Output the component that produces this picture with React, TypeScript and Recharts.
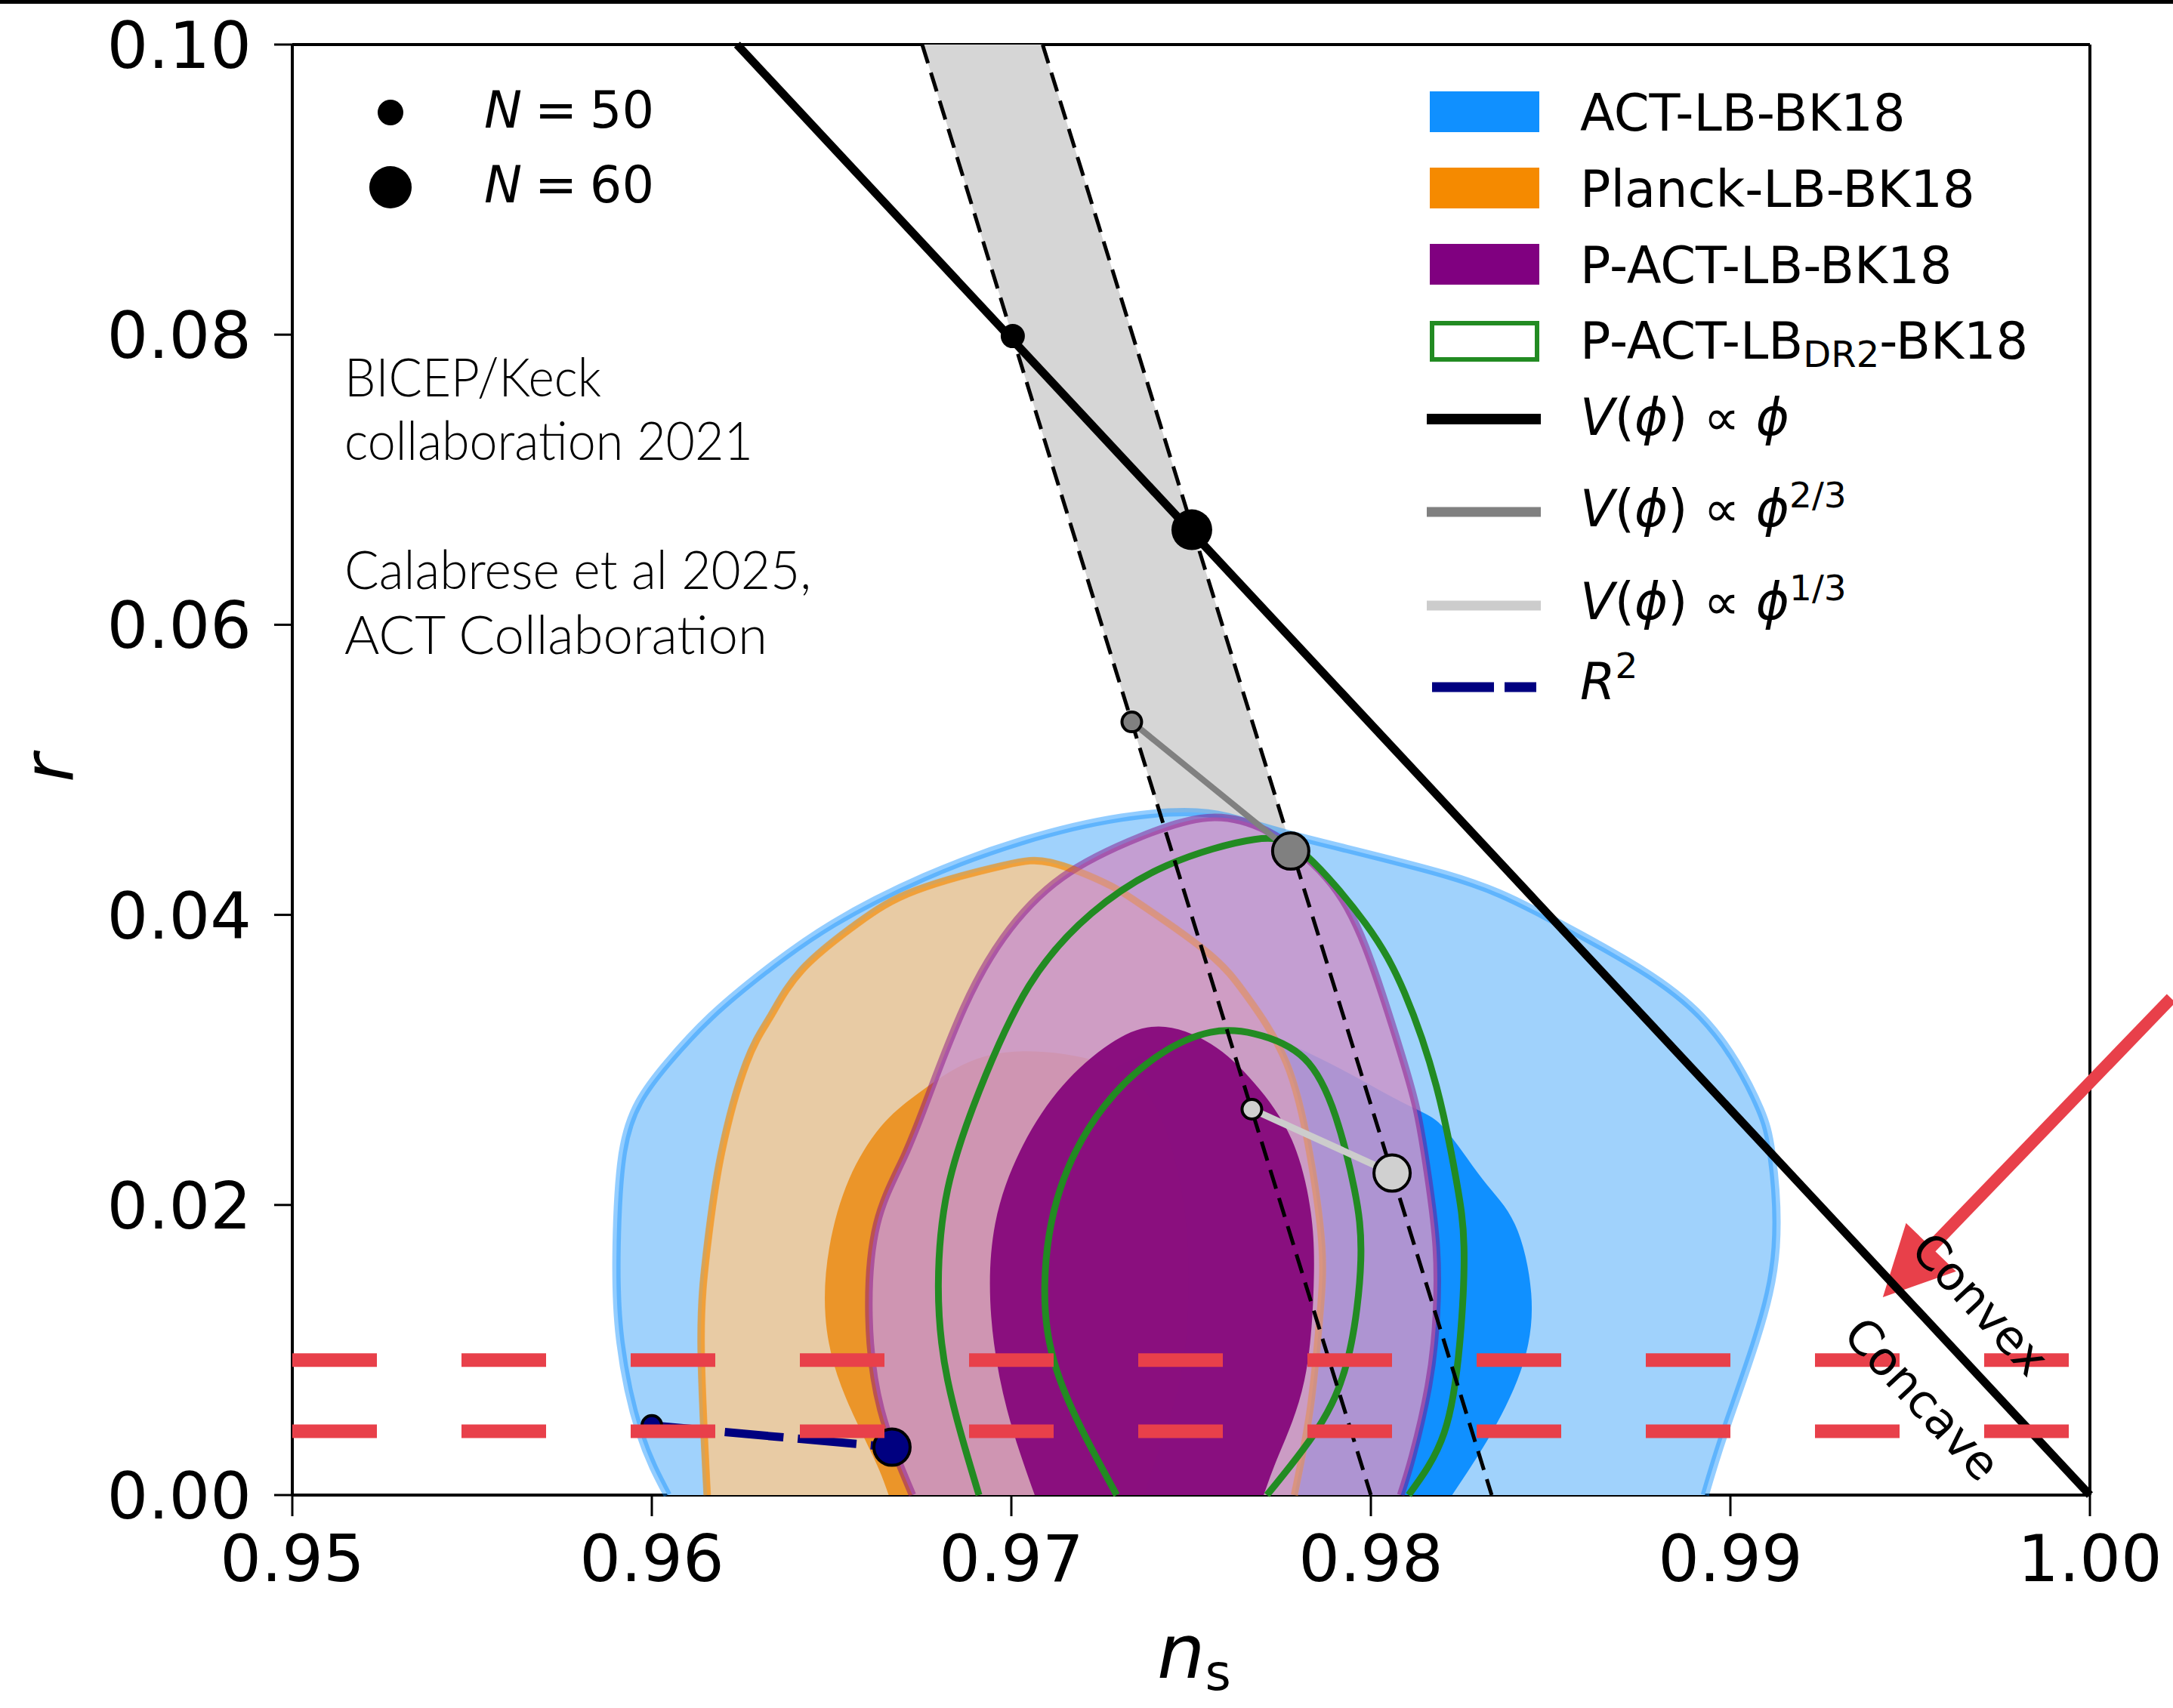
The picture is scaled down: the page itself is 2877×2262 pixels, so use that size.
import React from "react";
import { ScatterChart, Scatter, XAxis, YAxis, ReferenceLine } from "recharts";

type P = [number, number];

const W = 2877;
const H = 2262;

const nsTicks = [0.95, 0.96, 0.97, 0.98, 0.99, 1.0];
const rTicks = [0, 0.02, 0.04, 0.06, 0.08, 0.1];

// contours, [n_s, r], from r = 0 up and round to r = 0
const act95: P[] = [
  [0.96044, 0], [0.95967, 0.0043], [0.95912, 0.0107], [0.95902, 0.0171], [0.95918, 0.0234],
  [0.95965, 0.0271], [0.96044, 0.0298], [0.96165, 0.033], [0.96319, 0.0362], [0.96505, 0.0394],
  [0.96758, 0.0426], [0.97031, 0.0451], [0.97306, 0.0467], [0.97546, 0.047], [0.97765, 0.0456],
  [0.98204, 0.0428], [0.98479, 0.04], [0.98753, 0.0362], [0.98918, 0.033], [0.99016, 0.0298],
  [0.99082, 0.0266], [0.99115, 0.0234], [0.99126, 0.0171], [0.99071, 0.0107], [0.98983, 0.0043],
  [0.98929, 0],
];
const act68: P[] = [
  [0.97, 0], [0.9687, 0.006], [0.9684, 0.012], [0.9689, 0.018], [0.9702, 0.024], [0.9722, 0.0285],
  [0.975, 0.0315], [0.9776, 0.0312], [0.9807, 0.0273], [0.982, 0.0254], [0.9831, 0.0218],
  [0.984, 0.0187], [0.98446, 0.0139], [0.98424, 0.0091], [0.98336, 0.0043], [0.98226, 0],
];
const planck95: P[] = [
  [0.96154, 0], [0.96137, 0.0107], [0.96154, 0.0171], [0.96192, 0.0234], [0.96263, 0.0298],
  [0.9633, 0.033], [0.96417, 0.0362], [0.96571, 0.0394], [0.96736, 0.0417], [0.96977, 0.0434],
  [0.9711, 0.0436], [0.97252, 0.0423], [0.97361, 0.0407], [0.97546, 0.0374], [0.97655, 0.0344],
  [0.97765, 0.0298], [0.97831, 0.0234], [0.97864, 0.0171], [0.97858, 0.0123], [0.97831, 0.0059],
  [0.97787, 0],
];
const planck68: P[] = [
  [0.96659, 0], [0.96615, 0.0027], [0.96527, 0.0075], [0.96483, 0.0123], [0.96494, 0.0171],
  [0.96549, 0.0218], [0.96637, 0.0254], [0.96736, 0.0276], [0.96868, 0.0297], [0.97032, 0.0306],
  [0.97252, 0.0298], [0.97405, 0.0266], [0.9748, 0.02], [0.97493, 0.0139], [0.9747, 0.008],
  [0.97405, 0.0027], [0.9737, 0],
];
const pact95: P[] = [
  [0.96725, 0], [0.96637, 0.0059], [0.96604, 0.0123], [0.96626, 0.0187], [0.96703, 0.0234],
  [0.9678, 0.0282], [0.96868, 0.0336], [0.96977, 0.0384], [0.97142, 0.0426], [0.97361, 0.0454],
  [0.97546, 0.0467], [0.9771, 0.0458], [0.97875, 0.0426], [0.97985, 0.0378], [0.98072, 0.0314],
  [0.98127, 0.0266], [0.9816, 0.0218], [0.98182, 0.0171], [0.98182, 0.0123], [0.9816, 0.0075],
  [0.98116, 0.0027], [0.98083, 0],
];
const pact68: P[] = [
  [0.97065, 0], [0.96988, 0.0059], [0.96944, 0.0123], [0.96955, 0.0187], [0.97032, 0.0241],
  [0.97142, 0.0282], [0.97274, 0.0311], [0.9741, 0.0323], [0.97555, 0.0311], [0.97676, 0.0284],
  [0.9778, 0.0245], [0.97833, 0.0195], [0.97841, 0.0145], [0.97815, 0.0079], [0.97746, 0.0029],
  [0.97702, 0],
];
const dr2_95: P[] = [
  [0.9691, 0], [0.96823, 0.0079], [0.96797, 0.0145], [0.96823, 0.0211], [0.9691, 0.0278],
  [0.97049, 0.0351], [0.97223, 0.0401], [0.97432, 0.0434], [0.97676, 0.0452], [0.9782, 0.0441],
  [0.97985, 0.0394], [0.98094, 0.0346], [0.98182, 0.0282], [0.98237, 0.0218], [0.98259, 0.0171],
  [0.98248, 0.0107], [0.98204, 0.0043], [0.98105, 0],
];
const dr2_68: P[] = [
  [0.97293, 0], [0.97136, 0.0079], [0.97093, 0.0145], [0.97136, 0.0211], [0.97258, 0.0268],
  [0.97415, 0.0304], [0.97554, 0.0319], [0.97676, 0.0318], [0.97815, 0.0301], [0.97902, 0.0261],
  [0.97954, 0.0211], [0.97972, 0.0162], [0.97937, 0.0095], [0.9785, 0.0045], [0.97711, 0],
];

// BICEP/Keck band edges
const bandLeft: P[] = [[0.96752, 0.1], [0.98, 0]];
const bandRight: P[] = [[0.97087, 0.1], [0.98336, 0]];

// models at N = 50, 60
const nEfolds = [50, 60];
const linearTrack: P[] = [[0.96237, 0.1], [1.0, 0]];
const linearModel: P[] = [[0.97004, 0.0799], [0.97502, 0.06655]];
const twoThirdsModel: P[] = [[0.97335, 0.0533], [0.97777, 0.0444]];
const oneThirdModel: P[] = [[0.97669, 0.0266], [0.98059, 0.0222]];
const r2Model: P[] = [[0.96, 0.0048], [0.96668, 0.0033]];

const redLevels = [0.0093, 0.0044];
const arrowFrom: P = [1.00226, 0.03425];
const arrowTo: P = [0.99424, 0.01364];

const pts = (a: P[]) => a.map(([x, y]) => ({ x, y }));
const withN = (a: P[]) => a.map(([x, y], i) => ({ x, y, N: nEfolds[i] }));

const RED = "#e8404a";
const DV = "DejaVu Sans";

const nothing = () => <g />;

const region = (key: string, data: P[], line: any, curve: any = "natural") => (
  <Scatter
    key={key}
    data={pts(data)}
    line={{ strokeLinejoin: "round", ...line }}
    lineType="joint"
    lineJointType={curve}
    shape={nothing}
    isAnimationActive={false}
  />
);

const dot = (fill: string, edge: boolean) => (p: any) => {
  const big = p.payload && p.payload.N === 60;
  return (
    <circle
      cx={p.cx}
      cy={p.cy}
      r={edge ? (big ? 24 : 13) : big ? 27 : 16}
      fill={fill}
      stroke={edge ? "#000" : "none"}
      strokeWidth={4}
    />
  );
};

const XTick = (p: any) => (
  <text x={p.x} y={p.y} dy={86} textAnchor="middle" fontFamily={DV} fontSize={86} fill="#000">
    {Number(p.payload.value).toFixed(2)}
  </text>
);
const YTick = (p: any) => (
  <text x={p.x} y={p.y} dy={31} textAnchor="end" fontFamily={DV} fontSize={86} fill="#000">
    {Number(p.payload.value).toFixed(2)}
  </text>
);

const arrowShape = (p: any) => {
  const { x1, y1, x2, y2 } = p;
  const dx = x2 - x1;
  const dy = y2 - y1;
  const len = Math.hypot(dx, dy) || 1;
  const ux = dx / len;
  const uy = dy / len;
  const head = 92;
  const half = 46;
  const bx = x2 - ux * head;
  const by = y2 - uy * head;
  return (
    <g>
      <line x1={x1} y1={y1} x2={bx + ux * 4} y2={by + uy * 4} stroke={RED} strokeWidth={16} />
      <polygon
        points={`${x2},${y2} ${bx - uy * half},${by + ux * half} ${bx + uy * half},${by - ux * half}`}
        fill={RED}
      />
    </g>
  );
};

const legendRows = [
  { label: "ACT-LB-BK18", fill: "#1090ff", y: 148 },
  { label: "Planck-LB-BK18", fill: "#f58a00", y: 249 },
  { label: "P-ACT-LB-BK18", fill: "#800080", y: 350 },
];

const italic = { fontStyle: "italic" as const };

export default function App() {
  return (
    <div style={{ position: "relative", width: W, height: H, background: "#fff", overflow: "hidden" }}>
      <style>{"body{margin:0}"}</style>
      <ScatterChart width={W} height={H} margin={{ top: 59, right: 110, bottom: 0, left: 0 }}>
        <XAxis
          type="number"
          dataKey="x"
          domain={[0.95, 1]}
          ticks={nsTicks}
          interval={0}
          height={282}
          tickSize={28}
          tickMargin={0}
          tick={XTick}
          axisLine={{ stroke: "#000", strokeWidth: 4 }}
          tickLine={{ stroke: "#000", strokeWidth: 3 }}
        />
        <YAxis
          type="number"
          dataKey="y"
          domain={[0, 0.1]}
          ticks={rTicks}
          interval={0}
          width={387}
          tickSize={24}
          tickMargin={30}
          tick={YTick}
          axisLine={{ stroke: "#000", strokeWidth: 4 }}
          tickLine={{ stroke: "#000", strokeWidth: 3 }}
        />

        {region("band", [...bandLeft, ...[...bandRight].reverse()], { fill: "#d6d6d6", stroke: "none" }, "linear")}

        {region("act95", act95, { fill: "#a0d2fc", stroke: "#1090ff", strokeOpacity: 0.45, strokeWidth: 11 })}
        {region("act68", act68, { fill: "#1090ff", stroke: "none" })}
        {region("planck95", planck95, {
          fill: "rgb(245,202,148)",
          fillOpacity: 0.85,
          stroke: "#f58a00",
          strokeOpacity: 0.5,
          strokeWidth: 10,
        })}
        {region("planck68", planck68, { fill: "rgb(235,140,20)", fillOpacity: 0.85, stroke: "none" })}
        {region("pact95", pact95, {
          fill: "rgb(202,149,202)",
          fillOpacity: 0.85,
          stroke: "#800080",
          strokeOpacity: 0.45,
          strokeWidth: 10,
        })}
        {region("pact68", pact68, { fill: "rgb(130,0,120)", fillOpacity: 0.9, stroke: "none" })}
        {region("planck95edge", planck95, { fill: "none", stroke: "#f58a00", strokeOpacity: 0.3, strokeWidth: 9 })}
        {region("dr2_95", dr2_95, { fill: "none", stroke: "#228b22", strokeWidth: 9 })}
        {region("dr2_68", dr2_68, { fill: "none", stroke: "#228b22", strokeWidth: 9 })}

        {region("bandL", bandLeft, { fill: "none", stroke: "#000", strokeWidth: 5, strokeDasharray: "26 13" }, "linear")}
        {region("bandR", bandRight, { fill: "none", stroke: "#000", strokeWidth: 5, strokeDasharray: "26 13" }, "linear")}
        {region("linear", linearTrack, { fill: "none", stroke: "#000", strokeWidth: 11 }, "linear")}

        <Scatter
          data={withN(twoThirdsModel)}
          line={{ stroke: "#808080", strokeWidth: 8 }}
          lineType="joint"
          lineJointType="linear"
          shape={dot("#808080", true)}
          isAnimationActive={false}
        />
        <Scatter
          data={withN(oneThirdModel)}
          line={{ stroke: "#cccccc", strokeWidth: 9 }}
          lineType="joint"
          lineJointType="linear"
          shape={dot("#d0d0d0", true)}
          isAnimationActive={false}
        />
        <Scatter
          data={withN(r2Model)}
          line={{ stroke: "#000080", strokeWidth: 11, strokeDasharray: "78 19" }}
          lineType="joint"
          lineJointType="linear"
          shape={dot("#000080", true)}
          isAnimationActive={false}
        />
        <Scatter data={withN(linearModel)} shape={dot("#000", false)} isAnimationActive={false} />

        {redLevels.map((lv) =>
          region(
            "red" + lv,
            [[0.95, lv], [1.0, lv]],
            { fill: "none", stroke: RED, strokeWidth: 18, strokeDasharray: "112 112" },
            "linear"
          )
        )}

        <ReferenceLine y={0.1} stroke="#000" strokeWidth={4} />
        <ReferenceLine x={1.0} stroke="#000" strokeWidth={4} />
        <ReferenceLine
          segment={[
            { x: arrowFrom[0], y: arrowFrom[1] },
            { x: arrowTo[0], y: arrowTo[1] },
          ]}
          ifOverflow="visible"
          shape={arrowShape}
        />
      </ScatterChart>

      <svg
        width={W}
        height={H}
        style={{ position: "absolute", left: 0, top: 0, pointerEvents: "none" }}
      >
        <rect x={0} y={0} width={W} height={5} fill="#000" />

        {/* axis labels */}
        <text x={1532} y={2222} fontFamily={DV} fontSize={100} fill="#000">
          <tspan {...italic}>n</tspan>
          <tspan fontSize={66} dy={16}>s</tspan>
        </text>
        <text
          x={96}
          y={1017}
          fontFamily={DV}
          fontSize={92}
          fontStyle="italic"
          textAnchor="middle"
          transform="rotate(-90 96 1017)"
        >
          r
        </text>

        {/* N legend */}
        {nEfolds.map((n, i) => (
          <g key={n}>
            <circle cx={517} cy={i === 0 ? 149 : 248} r={i === 0 ? 17 : 28} fill="#000" />
            <text x={641} y={i === 0 ? 169 : 268} fontFamily={DV} fontSize={67} fill="#000">
              <tspan {...italic}>N</tspan>
              {`\u2005=\u2005${n}`}
            </text>
          </g>
        ))}

        {/* annotations */}
        <g fontFamily="Lato" fontWeight={300} fontSize={70} fill="#000">
          <text x={456} y={525} textLength={340} lengthAdjust="spacingAndGlyphs">BICEP/Keck</text>
          <text x={456} y={609} textLength={541} lengthAdjust="spacingAndGlyphs">collaboration 2021</text>
          <text x={456} y={780} textLength={618} lengthAdjust="spacingAndGlyphs">Calabrese et al 2025,</text>
          <text x={456} y={866} textLength={560} lengthAdjust="spacingAndGlyphs">ACT Collaboration</text>
        </g>

        <g fontFamily={DV} fontSize={62} fill="#000" textAnchor="middle" dominantBaseline="central">
          <text x={2622} y={1727} transform="rotate(47 2622 1727)">Convex</text>
          <text x={2545} y={1853} transform="rotate(47 2545 1853)">Concave</text>
        </g>

        {/* legend */}
        <g fontFamily={DV} fontSize={67} fill="#000">
          {legendRows.map((r) => (
            <g key={r.label}>
              <rect x={1893} y={r.y - 27} width={145} height={54} fill={r.fill} />
              <text x={2092} y={r.y + 25}>{r.label}</text>
            </g>
          ))}
          <rect x={1896} y={428} width={139} height={48} fill="#fff" stroke="#228b22" strokeWidth={6} />
          <text x={2092} y={475}>
            P-ACT-LB
            <tspan fontSize={48} dy={11}>DR2</tspan>
            <tspan dy={-11}>-BK18</tspan>
          </text>

          <line x1={1889} x2={2040} y1={555} y2={555} stroke="#000" strokeWidth={14} />
          <text x={2092} y={576}>
            <tspan {...italic}>V</tspan>(<tspan {...italic}>ϕ</tspan>) ∝ <tspan {...italic}>ϕ</tspan>
          </text>

          <line x1={1889} x2={2040} y1={678} y2={678} stroke="#808080" strokeWidth={13} />
          <text x={2092} y={697}>
            <tspan {...italic}>V</tspan>(<tspan {...italic}>ϕ</tspan>) ∝ <tspan {...italic}>ϕ</tspan>
            <tspan fontSize={47} dy={-25}>2/3</tspan>
          </text>

          <line x1={1889} x2={2040} y1={802} y2={802} stroke="#cccccc" strokeWidth={13} />
          <text x={2092} y={820}>
            <tspan {...italic}>V</tspan>(<tspan {...italic}>ϕ</tspan>) ∝ <tspan {...italic}>ϕ</tspan>
            <tspan fontSize={47} dy={-25}>1/3</tspan>
          </text>

          <line x1={1896} x2={2034} y1={910} y2={910} stroke="#000080" strokeWidth={13} strokeDasharray="82 14" />
          <text x={2092} y={926}>
            <tspan {...italic}>R</tspan>
            <tspan fontSize={47} dy={-28}>2</tspan>
          </text>
        </g>
      </svg>
    </div>
  );
}
